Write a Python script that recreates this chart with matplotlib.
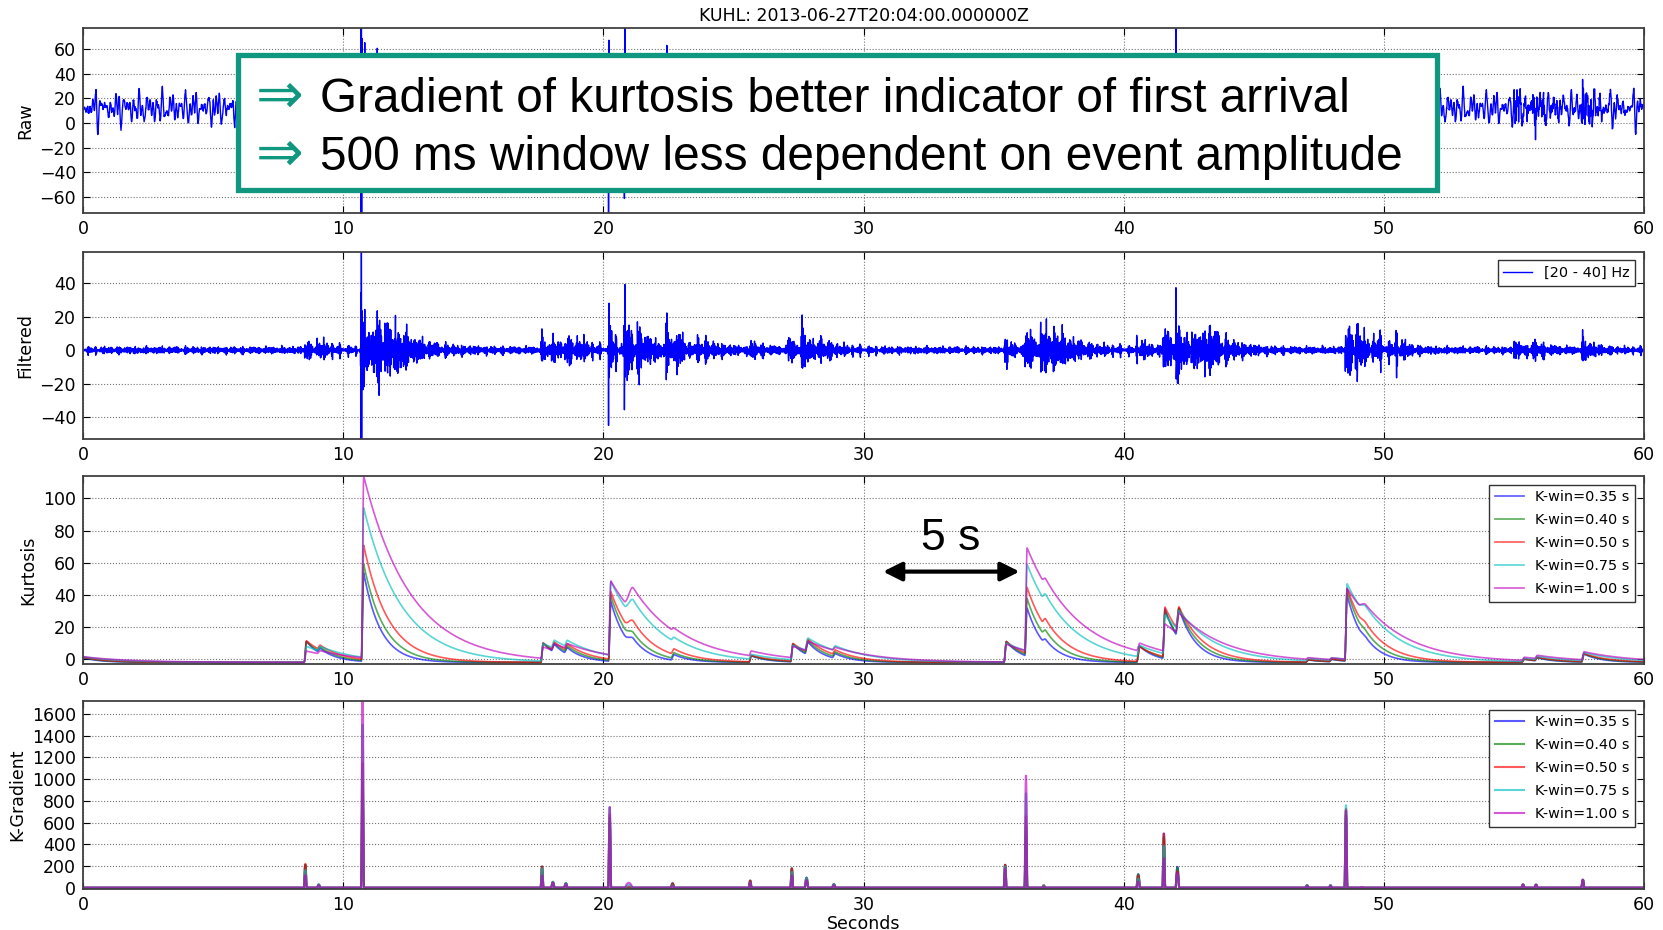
import numpy as np
import matplotlib
matplotlib.use('Agg')
import matplotlib.pyplot as plt
from matplotlib.patches import Rectangle

# ---- values ----
title = 'KUHL: 2013-06-27T20:04:00.000000Z'
t_end = 60.0
dt = 0.01

# kurtosis windows, colours and decay time (s) after each onset
k_wins = [0.35, 0.40, 0.50, 0.75, 1.00]
k_cols = ['b', 'g', 'r', 'c', 'm']
k_tau = [0.65, 0.78, 0.95, 1.45, 1.8]
k_base = -2.0

# onsets (s), rise time (s) and jump of kurtosis at each onset, one column per window
k_onset = [-0.3, 8.5, 9.0, 10.7, 17.6, 18.0, 18.5, 20.2, 20.8, 22.6, 25.6,
           27.2, 27.75, 28.8, 35.4, 36.2, 36.85, 40.5, 41.5, 42.0, 47.0,
           47.9, 48.5, 49.0, 55.3, 55.8, 57.6]
k_rise = [0.09, 0.09, 0.12, 0.09, 0.09, 0.12, 0.12, 0.09, 0.35, 0.12, 0.09,
          0.09, 0.12, 0.12, 0.09, 0.09, 0.15, 0.12, 0.09, 0.13, 0.1,
          0.1, 0.09, 0.3, 0.1, 0.1, 0.1]
k_jump = [
    [4, 4, 4, 4, 4],
    [13, 13, 13.5, 10, 7],
    [3, 3, 3, 3, 2],
    [55, 60, 71, 93, 113],
    [12, 12, 12, 11, 7],
    [5, 5, 5, 5, 4],
    [4, 4, 4, 4, 3],
    [37, 40, 42, 46, 46],
    [5, 5, 8, 11, 15],
    [3.5, 3.5, 3.5, 2.5, 2],
    [4, 4, 4, 3, 3],
    [11, 11, 11, 9, 7],
    [8, 8, 8, 8, 6],
    [3, 3, 3, 3, 2],
    [13, 13, 13, 12, 11],
    [30, 35, 41, 54, 64],
    [3, 4, 5, 5, 4],
    [10, 10, 9, 7, 5],
    [31, 29, 31, 24, 17],
    [19, 18, 15, 12, 13],
    [1.5, 1.5, 1.5, 1.5, 1],
    [1.5, 1.5, 1.5, 1.5, 1],
    [41, 44, 45, 47, 44],
    [2, 2, 3, 5, 5],
    [2, 2, 2, 2, 2],
    [2, 2, 2, 2, 2],
    [5, 5, 5, 5, 5],
]

# filtered trace: background level and bursts (onset, peak, decay)
f_bg = 2.3
f_onset = [8.5, 9.0, 10.72, 11.15, 11.6, 12.0, 17.6, 18.0, 18.5, 19.0, 20.2,
           20.8, 21.3, 22.4, 22.8, 23.6, 25.6, 27.1, 27.6, 28.3, 35.4, 36.2,
           36.8, 37.3, 40.5, 41.5, 42.0, 42.6, 43.1, 48.5, 48.9, 49.6, 50.4,
           55.0, 55.7, 57.6]
f_peak = [9, 6, 30, 32, 13, 9, 9, 8, 9, 5, 30, 38, 12, 15, 11, 7, 5, 9, 14, 5,
          10, 36, 34, 12, 8, 26, 33, 13, 15, 28, 18, 9, 11, 5, 5, 8]
f_decay = [0.2, 0.6, 0.3, 0.35, 0.6, 1.2, 0.25, 0.3, 0.5, 0.6, 0.2, 0.25, 0.8,
           0.25, 0.3, 0.8, 0.5, 0.3, 0.4, 0.8, 0.3, 0.2, 0.25, 1.0, 0.4, 0.25,
           0.25, 0.6, 0.8, 0.25, 0.4, 0.6, 0.3, 0.5, 0.5, 0.4]
spike_t = [10.70]
spike_a = [95]
f_freqs = [21.3, 24.7, 27.9, 31.1, 34.6, 37.3, 39.2]   # pass band carrier
raw_freqs = [2.3, 3.4, 4.6, 5.5, 6.7, 7.8, 9.1]
raw_mean = 12.0
raw_amp = 15.0
raw_fuzz = 1.5
raw_gain = 2.2

# ---- build traces ----
t = np.arange(0, t_end + dt / 2, dt)


def carrier(freqs):
    c = np.zeros_like(t)
    for i, f in enumerate(freqs):
        c += np.sin(2 * np.pi * f * t + 2.39996 * (i + 1))
    return c / np.percentile(np.abs(c), 98)


c_hi = carrier(f_freqs)
burst = np.zeros_like(t)
for t0, a, tau in zip(f_onset, f_peak, f_decay):
    m = t >= t0
    burst[m] += a * np.exp(-(t[m] - t0) / tau)
burst = burst * c_hi
for t0, a in zip(spike_t, spike_a):
    burst += a * np.cos(2 * np.pi * 50 * (t - t0)) * np.exp(-((t - t0) / 0.02) ** 2)
filt = f_bg * c_hi + burst

raw = raw_mean + raw_amp * carrier(raw_freqs) + raw_fuzz * c_hi + raw_gain * burst

kurt = []
for j in range(len(k_wins)):
    k = np.full_like(t, k_base)
    for t0, rise, jumps in zip(k_onset, k_rise, k_jump):
        s = np.clip((t - t0) / rise, 0, 1)
        k += jumps[j] * s * s * (3 - 2 * s) * np.exp(-np.clip(t - t0 - rise, 0, None) / k_tau[j])
    kurt.append(k)
kgrad = [np.clip(np.gradient(k, dt), 0, None) for k in kurt]

# ---- figure ----
W, H = 1663, 930
fs = 12.5
fig = plt.figure(figsize=(W / 100, H / 100), dpi=100, facecolor='white')


def axes_px(top, bottom, left=83, right=1644):
    return fig.add_axes([left / W, 1 - bottom / H, (right - left) / W, (bottom - top) / H])


def style(ax):
    ax.set_xlim(0, 60)
    ax.set_xticks(range(0, 61, 10))
    ax.grid(True, color='0.45', ls=':', lw=0.8)
    ax.tick_params(direction='in', top=True, right=True, labelsize=fs, length=5, pad=5)
    for sp in ax.spines.values():
        sp.set_color('0.25')
        sp.set_linewidth(1.3)


def legend(ax):
    ax.legend(loc='upper right', fontsize=10.4, fancybox=False, edgecolor='0.2',
              framealpha=1, borderaxespad=0.6, labelspacing=0.62)


ax1 = axes_px(28, 213)
ax1.plot(t, raw, 'b', lw=1)
ax1.set_ylim(-73, 77)
ax1.set_yticks(range(-60, 61, 20))
ax1.set_ylabel('Raw', fontsize=fs)
ax1.set_title(title, fontsize=fs, pad=5)
style(ax1)

ax2 = axes_px(251.5, 439)
ax2.plot(t, filt, 'b', lw=1, label='[20 - 40] Hz')
ax2.set_ylim(-53, 59)
ax2.set_yticks(range(-40, 41, 20))
ax2.set_ylabel('Filtered', fontsize=fs)
legend(ax2)
style(ax2)

ax3 = axes_px(476, 664)
for k, c, w in zip(kurt, k_cols, k_wins):
    ax3.plot(t, k, color=c, lw=1.2, alpha=0.65, label='K-win=%.2f s' % w)
ax3.set_ylim(-3, 114)
ax3.set_yticks(range(0, 101, 20))
ax3.set_ylabel('Kurtosis', fontsize=fs)
legend(ax3)
ax3.annotate('', xy=(30.75, 54.5), xytext=(36.0, 54.5),
             arrowprops=dict(arrowstyle='<|-|>', lw=3, color='k', mutation_scale=28,
                             shrinkA=0, shrinkB=0), zorder=8)
ax3.text(33.36, 68, '5 s', fontsize=32, family=['Liberation Sans', 'DejaVu Sans'],
         ha='center', va='baseline', zorder=8)
style(ax3)

ax4 = axes_px(701, 889)
for g, c, w in zip(kgrad, k_cols, k_wins):
    ax4.plot(t, g, color=c, lw=1.5, alpha=0.65, label='K-win=%.2f s' % w)
ax4.set_ylim(-12, 1720)
ax4.set_yticks(range(0, 1601, 200))
ax4.set_ylabel('K-Gradient', fontsize=fs)
ax4.set_xlabel('Seconds', fontsize=fs, labelpad=1)
legend(ax4)
style(ax4)

# overlay note box
teal = '#10977f'
fig.patches.append(Rectangle((238 / W, 1 - 190 / H), 1199 / W, 135 / H,
                             transform=fig.transFigure, facecolor='white',
                             edgecolor=teal, lw=3.8, zorder=10))
lines = ['Gradient of kurtosis better indicator of first arrival',
         '500 ms window less dependent on event amplitude']
for yb, txt in zip([112, 170], lines):
    fig.text(256 / W, 1 - (yb + 1) / H, '\u21d2', fontsize=41, color=teal,
             family=['DejaVu Sans'], va='baseline', zorder=11)
    fig.text(320 / W, 1 - yb / H, txt, fontsize=34.4,
             family=['Liberation Sans', 'DejaVu Sans'], va='baseline', zorder=11)

fig.savefig('out.png', dpi=100, facecolor='white')
